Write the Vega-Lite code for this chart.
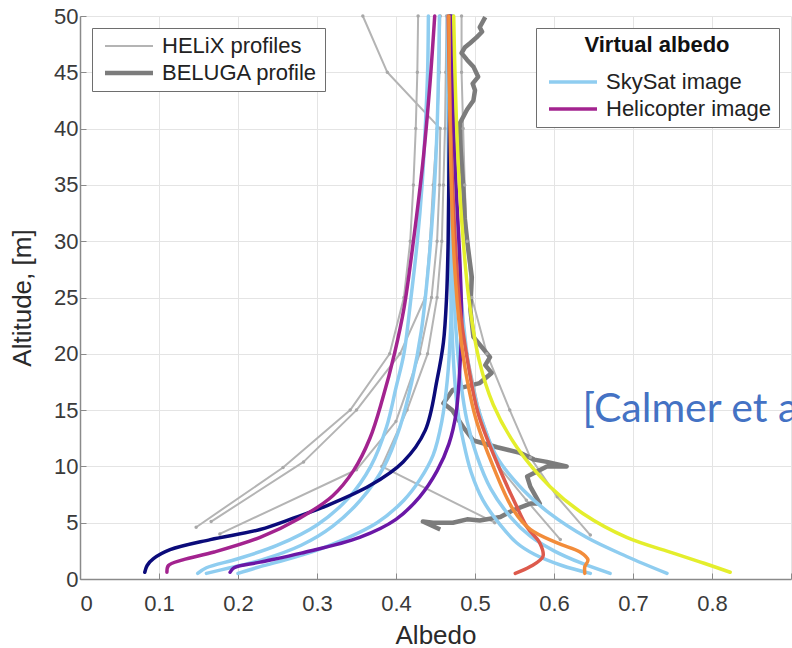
{
  "$schema": "https://vega.github.io/schema/vega-lite/v6.json",
  "width": 711,
  "height": 563,
  "autosize": {"type": "none"},
  "padding": {"left": 80, "top": 16, "right": 1, "bottom": 69},
  "background": "white",
  "config": {
    "view": {"stroke": null},
    "font": "Liberation Sans",
    "axis": {
      "grid": true, "gridColor": "#e4e4e4", "gridWidth": 1,
      "domainColor": "#8a8a8a", "domainWidth": 1.5,
      "tickColor": "#8a8a8a", "tickSize": -6,
      "labelFont": "Liberation Sans", "labelFontSize": 22, "labelColor": "#3a3a3a",
      "titleFont": "Liberation Sans", "titleFontSize": 26, "titleFontWeight": "normal", "titleColor": "#2a2a2a"
    },
    "legend": {
      "strokeColor": "#6e6e6e", "fillColor": "white", "padding": 7, "cornerRadius": 0,
      "labelFont": "Liberation Sans", "labelFontSize": 22, "labelColor": "#222222", "labelLimit": 400,
      "symbolType": "M-1,0H8.6", "symbolSize": 100, "symbolFillColor": "transparent",
      "labelOffset": 41, "rowPadding": 5, "offset": 12,
      "titleFont": "Liberation Sans", "titleFontSize": 22, "titleFontWeight": "bold", "titleColor": "#111111", "titleLimit": 400
    }
  },
  "datasets": {
    "profiles": [
      {"id": "H1", "grp": "HELiX profiles", "albedo": 0.147, "alt": 4.6},
      {"id": "H1", "grp": "HELiX profiles", "albedo": 0.257, "alt": 9.9},
      {"id": "H1", "grp": "HELiX profiles", "albedo": 0.342, "alt": 15},
      {"id": "H1", "grp": "HELiX profiles", "albedo": 0.392, "alt": 20},
      {"id": "H1", "grp": "HELiX profiles", "albedo": 0.41, "alt": 25},
      {"id": "H1", "grp": "HELiX profiles", "albedo": 0.418, "alt": 30},
      {"id": "H1", "grp": "HELiX profiles", "albedo": 0.422, "alt": 35},
      {"id": "H1", "grp": "HELiX profiles", "albedo": 0.425, "alt": 40},
      {"id": "H1", "grp": "HELiX profiles", "albedo": 0.427, "alt": 45},
      {"id": "H1", "grp": "HELiX profiles", "albedo": 0.428, "alt": 50},
      {"id": "H2", "grp": "HELiX profiles", "albedo": 0.166, "alt": 5.1},
      {"id": "H2", "grp": "HELiX profiles", "albedo": 0.283, "alt": 10.4},
      {"id": "H2", "grp": "HELiX profiles", "albedo": 0.35, "alt": 15},
      {"id": "H2", "grp": "HELiX profiles", "albedo": 0.405, "alt": 20},
      {"id": "H2", "grp": "HELiX profiles", "albedo": 0.437, "alt": 25},
      {"id": "H2", "grp": "HELiX profiles", "albedo": 0.443, "alt": 30},
      {"id": "H2", "grp": "HELiX profiles", "albedo": 0.447, "alt": 35},
      {"id": "H2", "grp": "HELiX profiles", "albedo": 0.452, "alt": 40},
      {"id": "H2", "grp": "HELiX profiles", "albedo": 0.455, "alt": 45},
      {"id": "H2", "grp": "HELiX profiles", "albedo": 0.456, "alt": 50},
      {"id": "H3", "grp": "HELiX profiles", "albedo": 0.177, "alt": 4.0},
      {"id": "H3", "grp": "HELiX profiles", "albedo": 0.35, "alt": 9.7},
      {"id": "H3", "grp": "HELiX profiles", "albedo": 0.4, "alt": 14},
      {"id": "H3", "grp": "HELiX profiles", "albedo": 0.43, "alt": 20},
      {"id": "H3", "grp": "HELiX profiles", "albedo": 0.445, "alt": 25},
      {"id": "H3", "grp": "HELiX profiles", "albedo": 0.452, "alt": 30},
      {"id": "H3", "grp": "HELiX profiles", "albedo": 0.455, "alt": 35},
      {"id": "H3", "grp": "HELiX profiles", "albedo": 0.456, "alt": 40},
      {"id": "H3", "grp": "HELiX profiles", "albedo": 0.389, "alt": 45},
      {"id": "H3", "grp": "HELiX profiles", "albedo": 0.358, "alt": 50},
      {"id": "H4", "grp": "HELiX profiles", "albedo": 0.525, "alt": 5},
      {"id": "H4", "grp": "HELiX profiles", "albedo": 0.382, "alt": 10},
      {"id": "H4", "grp": "HELiX profiles", "albedo": 0.414, "alt": 15},
      {"id": "H4", "grp": "HELiX profiles", "albedo": 0.44, "alt": 20},
      {"id": "H4", "grp": "HELiX profiles", "albedo": 0.452, "alt": 25},
      {"id": "H4", "grp": "HELiX profiles", "albedo": 0.458, "alt": 30},
      {"id": "H4", "grp": "HELiX profiles", "albedo": 0.46, "alt": 35},
      {"id": "H4", "grp": "HELiX profiles", "albedo": 0.462, "alt": 40},
      {"id": "H4", "grp": "HELiX profiles", "albedo": 0.463, "alt": 45},
      {"id": "H4", "grp": "HELiX profiles", "albedo": 0.464, "alt": 50},
      {"id": "H5", "grp": "HELiX profiles", "albedo": 0.646, "alt": 3.9},
      {"id": "H5", "grp": "HELiX profiles", "albedo": 0.604, "alt": 7.3},
      {"id": "H5", "grp": "HELiX profiles", "albedo": 0.57, "alt": 10.8},
      {"id": "H5", "grp": "HELiX profiles", "albedo": 0.544, "alt": 15},
      {"id": "H5", "grp": "HELiX profiles", "albedo": 0.515, "alt": 20},
      {"id": "H5", "grp": "HELiX profiles", "albedo": 0.496, "alt": 25},
      {"id": "H5", "grp": "HELiX profiles", "albedo": 0.49, "alt": 30},
      {"id": "H5", "grp": "HELiX profiles", "albedo": 0.487, "alt": 35},
      {"id": "H5", "grp": "HELiX profiles", "albedo": 0.485, "alt": 40},
      {"id": "H5", "grp": "HELiX profiles", "albedo": 0.483, "alt": 45},
      {"id": "H5", "grp": "HELiX profiles", "albedo": 0.483, "alt": 50},
      {"id": "H6", "grp": "HELiX profiles", "albedo": 0.608, "alt": 3.5},
      {"id": "H6", "grp": "HELiX profiles", "albedo": 0.565, "alt": 7},
      {"id": "H6", "grp": "HELiX profiles", "albedo": 0.53, "alt": 10},
      {"id": "H6", "grp": "HELiX profiles", "albedo": 0.505, "alt": 15},
      {"id": "H6", "grp": "HELiX profiles", "albedo": 0.49, "alt": 20},
      {"id": "H6", "grp": "HELiX profiles", "albedo": 0.48, "alt": 25},
      {"id": "H6", "grp": "HELiX profiles", "albedo": 0.475, "alt": 30},
      {"id": "H6", "grp": "HELiX profiles", "albedo": 0.472, "alt": 35},
      {"id": "H6", "grp": "HELiX profiles", "albedo": 0.47, "alt": 40},
      {"id": "H6", "grp": "HELiX profiles", "albedo": 0.47, "alt": 45},
      {"id": "H6", "grp": "HELiX profiles", "albedo": 0.47, "alt": 50},
      {"id": "B", "grp": "BELUGA profile", "albedo": 0.513, "alt": 49.9},
      {"id": "B", "grp": "BELUGA profile", "albedo": 0.506, "alt": 49.0},
      {"id": "B", "grp": "BELUGA profile", "albedo": 0.509, "alt": 48.6},
      {"id": "B", "grp": "BELUGA profile", "albedo": 0.502, "alt": 48.1},
      {"id": "B", "grp": "BELUGA profile", "albedo": 0.494, "alt": 47.6},
      {"id": "B", "grp": "BELUGA profile", "albedo": 0.487, "alt": 47.2},
      {"id": "B", "grp": "BELUGA profile", "albedo": 0.483, "alt": 46.7},
      {"id": "B", "grp": "BELUGA profile", "albedo": 0.49, "alt": 46.1},
      {"id": "B", "grp": "BELUGA profile", "albedo": 0.498, "alt": 45.5},
      {"id": "B", "grp": "BELUGA profile", "albedo": 0.504, "alt": 44.6},
      {"id": "B", "grp": "BELUGA profile", "albedo": 0.497, "alt": 44.0},
      {"id": "B", "grp": "BELUGA profile", "albedo": 0.5, "alt": 43.4},
      {"id": "B", "grp": "BELUGA profile", "albedo": 0.498, "alt": 42.5},
      {"id": "B", "grp": "BELUGA profile", "albedo": 0.49, "alt": 41.7},
      {"id": "B", "grp": "BELUGA profile", "albedo": 0.481, "alt": 40.5},
      {"id": "B", "grp": "BELUGA profile", "albedo": 0.482, "alt": 38},
      {"id": "B", "grp": "BELUGA profile", "albedo": 0.485, "alt": 35},
      {"id": "B", "grp": "BELUGA profile", "albedo": 0.487, "alt": 32},
      {"id": "B", "grp": "BELUGA profile", "albedo": 0.491, "alt": 29.5},
      {"id": "B", "grp": "BELUGA profile", "albedo": 0.496, "alt": 26.8},
      {"id": "B", "grp": "BELUGA profile", "albedo": 0.494, "alt": 24},
      {"id": "B", "grp": "BELUGA profile", "albedo": 0.498, "alt": 21.5},
      {"id": "B", "grp": "BELUGA profile", "albedo": 0.519, "alt": 19.7},
      {"id": "B", "grp": "BELUGA profile", "albedo": 0.513, "alt": 19.0},
      {"id": "B", "grp": "BELUGA profile", "albedo": 0.521, "alt": 18.3},
      {"id": "B", "grp": "BELUGA profile", "albedo": 0.506, "alt": 17.4},
      {"id": "B", "grp": "BELUGA profile", "albedo": 0.472, "alt": 16.8},
      {"id": "B", "grp": "BELUGA profile", "albedo": 0.46, "alt": 15.6},
      {"id": "B", "grp": "BELUGA profile", "albedo": 0.471, "alt": 15},
      {"id": "B", "grp": "BELUGA profile", "albedo": 0.485, "alt": 13.5},
      {"id": "B", "grp": "BELUGA profile", "albedo": 0.498, "alt": 12.3},
      {"id": "B", "grp": "BELUGA profile", "albedo": 0.528, "alt": 11.7},
      {"id": "B", "grp": "BELUGA profile", "albedo": 0.557, "alt": 11.2},
      {"id": "B", "grp": "BELUGA profile", "albedo": 0.575, "alt": 10.6},
      {"id": "B", "grp": "BELUGA profile", "albedo": 0.591, "alt": 10.4},
      {"id": "B", "grp": "BELUGA profile", "albedo": 0.616, "alt": 10},
      {"id": "B", "grp": "BELUGA profile", "albedo": 0.591, "alt": 10},
      {"id": "B", "grp": "BELUGA profile", "albedo": 0.566, "alt": 9.1},
      {"id": "B", "grp": "BELUGA profile", "albedo": 0.57, "alt": 8.2},
      {"id": "B", "grp": "BELUGA profile", "albedo": 0.582, "alt": 6.7},
      {"id": "B", "grp": "BELUGA profile", "albedo": 0.57, "alt": 6.7},
      {"id": "B", "grp": "BELUGA profile", "albedo": 0.548, "alt": 6.1},
      {"id": "B", "grp": "BELUGA profile", "albedo": 0.532, "alt": 5.5},
      {"id": "B", "grp": "BELUGA profile", "albedo": 0.506, "alt": 5.2},
      {"id": "B", "grp": "BELUGA profile", "albedo": 0.49, "alt": 5.3},
      {"id": "B", "grp": "BELUGA profile", "albedo": 0.472, "alt": 5},
      {"id": "B", "grp": "BELUGA profile", "albedo": 0.447, "alt": 5},
      {"id": "B", "grp": "BELUGA profile", "albedo": 0.434, "alt": 5.1},
      {"id": "B", "grp": "BELUGA profile", "albedo": 0.456, "alt": 4.4}
    ],
    "curves": [
      {"id": "LB1", "grp": "SkySat image", "albedo": 0.149, "alt": 0.5},
      {"id": "LB1", "grp": "SkySat image", "albedo": 0.16, "alt": 1.0},
      {"id": "LB1", "grp": "SkySat image", "albedo": 0.2, "alt": 1.8},
      {"id": "LB1", "grp": "SkySat image", "albedo": 0.25, "alt": 3.0},
      {"id": "LB1", "grp": "SkySat image", "albedo": 0.3, "alt": 4.8},
      {"id": "LB1", "grp": "SkySat image", "albedo": 0.34, "alt": 7.2},
      {"id": "LB1", "grp": "SkySat image", "albedo": 0.368, "alt": 10},
      {"id": "LB1", "grp": "SkySat image", "albedo": 0.388, "alt": 13.5},
      {"id": "LB1", "grp": "SkySat image", "albedo": 0.4, "alt": 17},
      {"id": "LB1", "grp": "SkySat image", "albedo": 0.41, "alt": 20},
      {"id": "LB1", "grp": "SkySat image", "albedo": 0.419, "alt": 25},
      {"id": "LB1", "grp": "SkySat image", "albedo": 0.427, "alt": 30},
      {"id": "LB1", "grp": "SkySat image", "albedo": 0.433, "alt": 35},
      {"id": "LB1", "grp": "SkySat image", "albedo": 0.437, "alt": 40},
      {"id": "LB1", "grp": "SkySat image", "albedo": 0.44, "alt": 45},
      {"id": "LB1", "grp": "SkySat image", "albedo": 0.441, "alt": 50},
      {"id": "LB2", "grp": "SkySat image", "albedo": 0.16, "alt": 0.5},
      {"id": "LB2", "grp": "SkySat image", "albedo": 0.19, "alt": 1.0},
      {"id": "LB2", "grp": "SkySat image", "albedo": 0.23, "alt": 1.7},
      {"id": "LB2", "grp": "SkySat image", "albedo": 0.28, "alt": 3.0},
      {"id": "LB2", "grp": "SkySat image", "albedo": 0.32, "alt": 4.7},
      {"id": "LB2", "grp": "SkySat image", "albedo": 0.355, "alt": 7},
      {"id": "LB2", "grp": "SkySat image", "albedo": 0.385, "alt": 10},
      {"id": "LB2", "grp": "SkySat image", "albedo": 0.405, "alt": 13.5},
      {"id": "LB2", "grp": "SkySat image", "albedo": 0.42, "alt": 17.5},
      {"id": "LB2", "grp": "SkySat image", "albedo": 0.432, "alt": 22},
      {"id": "LB2", "grp": "SkySat image", "albedo": 0.44, "alt": 27},
      {"id": "LB2", "grp": "SkySat image", "albedo": 0.447, "alt": 33},
      {"id": "LB2", "grp": "SkySat image", "albedo": 0.452, "alt": 40},
      {"id": "LB2", "grp": "SkySat image", "albedo": 0.455, "alt": 50},
      {"id": "LB3", "grp": "SkySat image", "albedo": 0.2, "alt": 0.5},
      {"id": "LB3", "grp": "SkySat image", "albedo": 0.228, "alt": 1.1},
      {"id": "LB3", "grp": "SkySat image", "albedo": 0.27, "alt": 1.9},
      {"id": "LB3", "grp": "SkySat image", "albedo": 0.313, "alt": 2.9},
      {"id": "LB3", "grp": "SkySat image", "albedo": 0.376, "alt": 5},
      {"id": "LB3", "grp": "SkySat image", "albedo": 0.41, "alt": 7},
      {"id": "LB3", "grp": "SkySat image", "albedo": 0.43, "alt": 8.8},
      {"id": "LB3", "grp": "SkySat image", "albedo": 0.447, "alt": 11},
      {"id": "LB3", "grp": "SkySat image", "albedo": 0.458, "alt": 14},
      {"id": "LB3", "grp": "SkySat image", "albedo": 0.465, "alt": 17.7},
      {"id": "LB3", "grp": "SkySat image", "albedo": 0.469, "alt": 22},
      {"id": "LB3", "grp": "SkySat image", "albedo": 0.471, "alt": 28},
      {"id": "LB3", "grp": "SkySat image", "albedo": 0.472, "alt": 35},
      {"id": "LB3", "grp": "SkySat image", "albedo": 0.472, "alt": 42},
      {"id": "LB3", "grp": "SkySat image", "albedo": 0.472, "alt": 50},
      {"id": "LB4", "grp": "SkySat image", "albedo": 0.646, "alt": 0.5},
      {"id": "LB4", "grp": "SkySat image", "albedo": 0.61, "alt": 1.2},
      {"id": "LB4", "grp": "SkySat image", "albedo": 0.575, "alt": 2.2},
      {"id": "LB4", "grp": "SkySat image", "albedo": 0.553, "alt": 3.2},
      {"id": "LB4", "grp": "SkySat image", "albedo": 0.532, "alt": 4.8},
      {"id": "LB4", "grp": "SkySat image", "albedo": 0.51, "alt": 7},
      {"id": "LB4", "grp": "SkySat image", "albedo": 0.495, "alt": 9.5},
      {"id": "LB4", "grp": "SkySat image", "albedo": 0.485, "alt": 12.3},
      {"id": "LB4", "grp": "SkySat image", "albedo": 0.478, "alt": 15},
      {"id": "LB4", "grp": "SkySat image", "albedo": 0.474, "alt": 18},
      {"id": "LB4", "grp": "SkySat image", "albedo": 0.471, "alt": 22},
      {"id": "LB4", "grp": "SkySat image", "albedo": 0.469, "alt": 27},
      {"id": "LB4", "grp": "SkySat image", "albedo": 0.467, "alt": 33},
      {"id": "LB4", "grp": "SkySat image", "albedo": 0.466, "alt": 40},
      {"id": "LB4", "grp": "SkySat image", "albedo": 0.465, "alt": 50},
      {"id": "LB5", "grp": "SkySat image", "albedo": 0.671, "alt": 0.5},
      {"id": "LB5", "grp": "SkySat image", "albedo": 0.635, "alt": 1.4},
      {"id": "LB5", "grp": "SkySat image", "albedo": 0.6, "alt": 2.5},
      {"id": "LB5", "grp": "SkySat image", "albedo": 0.57, "alt": 3.8},
      {"id": "LB5", "grp": "SkySat image", "albedo": 0.545, "alt": 5.5},
      {"id": "LB5", "grp": "SkySat image", "albedo": 0.52, "alt": 8},
      {"id": "LB5", "grp": "SkySat image", "albedo": 0.502, "alt": 11},
      {"id": "LB5", "grp": "SkySat image", "albedo": 0.49, "alt": 14},
      {"id": "LB5", "grp": "SkySat image", "albedo": 0.482, "alt": 17.5},
      {"id": "LB5", "grp": "SkySat image", "albedo": 0.476, "alt": 22},
      {"id": "LB5", "grp": "SkySat image", "albedo": 0.472, "alt": 28},
      {"id": "LB5", "grp": "SkySat image", "albedo": 0.47, "alt": 35},
      {"id": "LB5", "grp": "SkySat image", "albedo": 0.468, "alt": 42},
      {"id": "LB5", "grp": "SkySat image", "albedo": 0.467, "alt": 50},
      {"id": "LB6", "grp": "SkySat image", "albedo": 0.743, "alt": 0.5},
      {"id": "LB6", "grp": "SkySat image", "albedo": 0.692, "alt": 2},
      {"id": "LB6", "grp": "SkySat image", "albedo": 0.641, "alt": 3.7},
      {"id": "LB6", "grp": "SkySat image", "albedo": 0.595, "alt": 5.8},
      {"id": "LB6", "grp": "SkySat image", "albedo": 0.561, "alt": 7.9},
      {"id": "LB6", "grp": "SkySat image", "albedo": 0.528, "alt": 10.8},
      {"id": "LB6", "grp": "SkySat image", "albedo": 0.506, "alt": 14.7},
      {"id": "LB6", "grp": "SkySat image", "albedo": 0.493, "alt": 18.5},
      {"id": "LB6", "grp": "SkySat image", "albedo": 0.485, "alt": 23},
      {"id": "LB6", "grp": "SkySat image", "albedo": 0.479, "alt": 28},
      {"id": "LB6", "grp": "SkySat image", "albedo": 0.475, "alt": 34},
      {"id": "LB6", "grp": "SkySat image", "albedo": 0.473, "alt": 41},
      {"id": "LB6", "grp": "SkySat image", "albedo": 0.472, "alt": 50},
      {"id": "NV", "grp": "navy", "albedo": 0.082, "alt": 0.6},
      {"id": "NV", "grp": "navy", "albedo": 0.085, "alt": 1.2},
      {"id": "NV", "grp": "navy", "albedo": 0.093, "alt": 1.8},
      {"id": "NV", "grp": "navy", "albedo": 0.114, "alt": 2.6},
      {"id": "NV", "grp": "navy", "albedo": 0.165, "alt": 3.5},
      {"id": "NV", "grp": "navy", "albedo": 0.228, "alt": 4.4},
      {"id": "NV", "grp": "navy", "albedo": 0.27, "alt": 5.4},
      {"id": "NV", "grp": "navy", "albedo": 0.312, "alt": 6.5},
      {"id": "NV", "grp": "navy", "albedo": 0.367, "alt": 8.3},
      {"id": "NV", "grp": "navy", "albedo": 0.409, "alt": 10.4},
      {"id": "NV", "grp": "navy", "albedo": 0.437, "alt": 13.2},
      {"id": "NV", "grp": "navy", "albedo": 0.452, "alt": 17.7},
      {"id": "NV", "grp": "navy", "albedo": 0.46, "alt": 21},
      {"id": "NV", "grp": "navy", "albedo": 0.464, "alt": 25},
      {"id": "NV", "grp": "navy", "albedo": 0.466, "alt": 30},
      {"id": "NV", "grp": "navy", "albedo": 0.467, "alt": 36},
      {"id": "NV", "grp": "navy", "albedo": 0.468, "alt": 43},
      {"id": "NV", "grp": "navy", "albedo": 0.468, "alt": 50},
      {"id": "MG", "grp": "Helicopter image", "albedo": 0.11, "alt": 0.6},
      {"id": "MG", "grp": "Helicopter image", "albedo": 0.112, "alt": 1.2},
      {"id": "MG", "grp": "Helicopter image", "albedo": 0.13, "alt": 1.7},
      {"id": "MG", "grp": "Helicopter image", "albedo": 0.17, "alt": 2.4},
      {"id": "MG", "grp": "Helicopter image", "albedo": 0.228, "alt": 3.7},
      {"id": "MG", "grp": "Helicopter image", "albedo": 0.278, "alt": 5.4},
      {"id": "MG", "grp": "Helicopter image", "albedo": 0.32, "alt": 7.4},
      {"id": "MG", "grp": "Helicopter image", "albedo": 0.346, "alt": 9.6},
      {"id": "MG", "grp": "Helicopter image", "albedo": 0.367, "alt": 12.5},
      {"id": "MG", "grp": "Helicopter image", "albedo": 0.383, "alt": 16},
      {"id": "MG", "grp": "Helicopter image", "albedo": 0.398, "alt": 20},
      {"id": "MG", "grp": "Helicopter image", "albedo": 0.41, "alt": 24},
      {"id": "MG", "grp": "Helicopter image", "albedo": 0.422, "alt": 30},
      {"id": "MG", "grp": "Helicopter image", "albedo": 0.434, "alt": 37},
      {"id": "MG", "grp": "Helicopter image", "albedo": 0.443, "alt": 44},
      {"id": "MG", "grp": "Helicopter image", "albedo": 0.449, "alt": 50},
      {"id": "VI", "grp": "violet", "albedo": 0.19, "alt": 0.6},
      {"id": "VI", "grp": "violet", "albedo": 0.195, "alt": 1.0},
      {"id": "VI", "grp": "violet", "albedo": 0.228, "alt": 1.5},
      {"id": "VI", "grp": "violet", "albedo": 0.28, "alt": 2.3},
      {"id": "VI", "grp": "violet", "albedo": 0.354, "alt": 3.7},
      {"id": "VI", "grp": "violet", "albedo": 0.4, "alt": 5.3},
      {"id": "VI", "grp": "violet", "albedo": 0.43, "alt": 7.3},
      {"id": "VI", "grp": "violet", "albedo": 0.452, "alt": 9.6},
      {"id": "VI", "grp": "violet", "albedo": 0.467, "alt": 12},
      {"id": "VI", "grp": "violet", "albedo": 0.476, "alt": 14.7},
      {"id": "VI", "grp": "violet", "albedo": 0.481, "alt": 19},
      {"id": "VI", "grp": "violet", "albedo": 0.483, "alt": 23},
      {"id": "VI", "grp": "violet", "albedo": 0.481, "alt": 28},
      {"id": "VI", "grp": "violet", "albedo": 0.476, "alt": 35},
      {"id": "VI", "grp": "violet", "albedo": 0.472, "alt": 42},
      {"id": "VI", "grp": "violet", "albedo": 0.47, "alt": 50},
      {"id": "RD", "grp": "red", "albedo": 0.551, "alt": 0.5},
      {"id": "RD", "grp": "red", "albedo": 0.57, "alt": 1.1},
      {"id": "RD", "grp": "red", "albedo": 0.586, "alt": 2.0},
      {"id": "RD", "grp": "red", "albedo": 0.582, "alt": 3.2},
      {"id": "RD", "grp": "red", "albedo": 0.566, "alt": 4.6},
      {"id": "RD", "grp": "red", "albedo": 0.551, "alt": 6.7},
      {"id": "RD", "grp": "red", "albedo": 0.528, "alt": 10.3},
      {"id": "RD", "grp": "red", "albedo": 0.504, "alt": 14.7},
      {"id": "RD", "grp": "red", "albedo": 0.491, "alt": 19.2},
      {"id": "RD", "grp": "red", "albedo": 0.481, "alt": 24},
      {"id": "RD", "grp": "red", "albedo": 0.475, "alt": 30},
      {"id": "RD", "grp": "red", "albedo": 0.471, "alt": 36},
      {"id": "RD", "grp": "red", "albedo": 0.468, "alt": 43},
      {"id": "RD", "grp": "red", "albedo": 0.466, "alt": 50},
      {"id": "OR", "grp": "orange", "albedo": 0.639, "alt": 0.5},
      {"id": "OR", "grp": "orange", "albedo": 0.639, "alt": 1.1},
      {"id": "OR", "grp": "orange", "albedo": 0.643, "alt": 1.7},
      {"id": "OR", "grp": "orange", "albedo": 0.633, "alt": 2.4},
      {"id": "OR", "grp": "orange", "albedo": 0.604, "alt": 3.2},
      {"id": "OR", "grp": "orange", "albedo": 0.57, "alt": 4.4},
      {"id": "OR", "grp": "orange", "albedo": 0.548, "alt": 6.2},
      {"id": "OR", "grp": "orange", "albedo": 0.523, "alt": 10},
      {"id": "OR", "grp": "orange", "albedo": 0.502, "alt": 14},
      {"id": "OR", "grp": "orange", "albedo": 0.49, "alt": 17.7},
      {"id": "OR", "grp": "orange", "albedo": 0.481, "alt": 22},
      {"id": "OR", "grp": "orange", "albedo": 0.474, "alt": 28},
      {"id": "OR", "grp": "orange", "albedo": 0.47, "alt": 35},
      {"id": "OR", "grp": "orange", "albedo": 0.468, "alt": 42},
      {"id": "OR", "grp": "orange", "albedo": 0.467, "alt": 50},
      {"id": "YL", "grp": "yellow", "albedo": 0.823, "alt": 0.6},
      {"id": "YL", "grp": "yellow", "albedo": 0.79, "alt": 1.4},
      {"id": "YL", "grp": "yellow", "albedo": 0.751, "alt": 2.3},
      {"id": "YL", "grp": "yellow", "albedo": 0.692, "alt": 3.7},
      {"id": "YL", "grp": "yellow", "albedo": 0.637, "alt": 5.8},
      {"id": "YL", "grp": "yellow", "albedo": 0.595, "alt": 8.2},
      {"id": "YL", "grp": "yellow", "albedo": 0.553, "alt": 11.7},
      {"id": "YL", "grp": "yellow", "albedo": 0.523, "alt": 15.5},
      {"id": "YL", "grp": "yellow", "albedo": 0.505, "alt": 19.5},
      {"id": "YL", "grp": "yellow", "albedo": 0.492, "alt": 25},
      {"id": "YL", "grp": "yellow", "albedo": 0.483, "alt": 32},
      {"id": "YL", "grp": "yellow", "albedo": 0.478, "alt": 38},
      {"id": "YL", "grp": "yellow", "albedo": 0.475, "alt": 44},
      {"id": "YL", "grp": "yellow", "albedo": 0.473, "alt": 50}
    ],
    "note": [
      {"label": "[Calmer et al., 2018]", "albedo": 0.636, "alt": 13.94}
    ]
  },
  "layer": [
    {
      "data": {"name": "profiles"},
      "mark": {"type": "line", "interpolate": "linear", "strokeJoin": "round"},
      "encoding": {
        "x": {"field": "albedo", "type": "quantitative", "scale": {"domain": [0, 0.9], "nice": false},
              "axis": {"title": "Albedo", "values": [0, 0.1, 0.2, 0.3, 0.4, 0.5, 0.6, 0.7, 0.8, 0.9], "format": "~g", "labelPadding": 20, "titlePadding": 8,
                       "labelExpr": "datum.value > 0.85 ? '' : datum.label"}},
        "y": {"field": "alt", "type": "quantitative", "scale": {"domain": [0, 50], "nice": false},
              "axis": {"title": "Altitude, [m]", "values": [0, 5, 10, 15, 20, 25, 30, 35, 40, 45, 50], "labelPadding": 8, "titlePadding": 18}},
        "detail": {"field": "id"},
        "order": {"value": null},
        "color": {"field": "grp", "type": "nominal",
                  "scale": {"domain": ["HELiX profiles", "BELUGA profile"], "range": ["#b4b4b4", "#7c7c7c"]},
                  "legend": {"title": null, "orient": "top-left", "symbolStrokeWidth": 2.5,
                             "encode": {"symbols": {"update": {"strokeWidth": {"signal": "datum.value == 'BELUGA profile' ? 3.5 : 2"}}}}}},
        "strokeWidth": {"field": "grp", "type": "nominal",
                        "scale": {"domain": ["HELiX profiles", "BELUGA profile"], "range": [2, 4.5]},
                        "legend": null}
      }
    },
    {
      "data": {"name": "profiles"},
      "transform": [{"filter": "datum.grp == 'HELiX profiles'"}],
      "mark": {"type": "point", "filled": true, "size": 12, "color": "#a8a8a8", "opacity": 1},
      "encoding": {
        "x": {"field": "albedo", "type": "quantitative"},
        "y": {"field": "alt", "type": "quantitative"}
      }
    },
    {
      "data": {"name": "curves"},
      "mark": {"type": "line", "interpolate": "catmull-rom", "strokeWidth": 3.5, "strokeCap": "round"},
      "encoding": {
        "x": {"field": "albedo", "type": "quantitative"},
        "y": {"field": "alt", "type": "quantitative"},
        "detail": {"field": "id"},
        "order": {"value": null},
        "color": {"field": "grp", "type": "nominal",
                  "scale": {"domain": ["SkySat image", "Helicopter image", "navy", "violet", "red", "orange", "yellow"],
                            "range": ["#8fcdf0", "#a3238f", "#0b0b7a", "#6a17a6", "#dd5a4c", "#f28c3a", "#e4ee2c"]},
                  "legend": {"title": "Virtual albedo", "orient": "top-right", "values": ["SkySat image", "Helicopter image"],
                             "titleAnchor": "middle", "titlePadding": 14, "symbolStrokeWidth": 3.5}}
      }
    },
    {
      "data": {"name": "note"},
      "mark": {"type": "text", "align": "left", "baseline": "alphabetic", "font": "Lato", "fontSize": 41, "color": "#4472c4"},
      "encoding": {
        "x": {"field": "albedo", "type": "quantitative"},
        "y": {"field": "alt", "type": "quantitative"},
        "text": {"field": "label"}
      }
    }
  ],
  "resolve": {"scale": {"color": "independent", "strokeWidth": "independent"}, "legend": {"color": "independent"}}
}
